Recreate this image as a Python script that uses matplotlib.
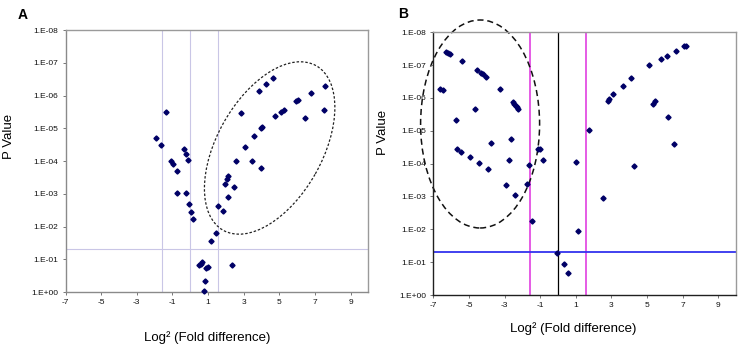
import numpy as np
import matplotlib
matplotlib.use("Agg")
import matplotlib.pyplot as plt
from matplotlib.patches import Ellipse
from matplotlib.transforms import ScaledTranslation
from matplotlib.ticker import FixedLocator, FuncFormatter

plt.rcParams['font.family'] = ['Liberation Sans', 'DejaVu Sans']
plt.rcParams['axes.unicode_minus'] = False

# ---------------- Data: panel A ----------------
a_fold = [-1.93, -1.65, -1.37, -1.07, -0.96, -0.75, -0.75, -0.36, -0.24, -0.13,
          -0.24, -0.08, 0.02, 0.15, 1.16, 1.46, 1.58, 1.84, 1.95, 2.06,
          2.14, 2.14, 2.44, 2.55, 2.85, 3.08, 3.47, 3.57, 3.85, 3.96,
          4.05, 3.96, 4.26, 4.65, 4.78, 5.07, 5.27, 5.93, 6.06, 6.45,
          6.77, 7.49, 7.54, 0.47, 0.58, 0.68, 0.86, 0.98, 0.84, 0.75, 2.36]
a_pval = [2.0e-5, 3.2e-5, 3.3e-6, 9.8e-5, 1.2e-4, 2.0e-4, 9.3e-4, 4.3e-5, 6.3e-5, 9.5e-5,
          9.3e-4, 2.1e-3, 3.5e-3, 5.9e-3, 2.7e-2, 1.6e-2, 2.3e-3, 3.3e-3, 4.9e-4, 3.6e-4,
          2.8e-4, 1.3e-3, 6.3e-4, 1.0e-4, 3.5e-6, 3.7e-5, 1.0e-4, 1.7e-5, 7.2e-7, 9.8e-6,
          9.1e-6, 1.6e-4, 4.6e-7, 3.0e-7, 4.3e-6, 3.2e-6, 2.7e-6, 1.5e-6, 1.4e-6, 5.0e-6,
          8.5e-7, 2.7e-6, 5.1e-7, 0.145, 0.135, 0.123, 0.19, 0.174, 0.457, 0.91, 0.148]

# ---------------- Data: panel B ----------------
b_fold = [-6.65, -6.47, -6.32, -6.18, -6.05, -5.73, -5.66, -5.43, -5.38, -4.96,
          -4.64, -4.53, -4.44, -4.32, -4.21, -4.04, -3.93, -3.76, -3.25, -2.93,
          -2.74, -2.65, -2.54, -2.46, -2.39, -2.33, -2.26, -2.42, -1.77, -1.65,
          -1.47, -1.11, -1.02, -0.85,
          -0.08, 0.34, 0.55, 1.02, 1.11, 1.73, 2.52, 2.80, 2.89, 3.10,
          3.63, 4.10, 4.27, 5.11, 5.32, 5.47, 5.79, 6.11, 6.20, 6.62,
          6.50, 7.09, 7.20]
b_pval = [5.2e-7, 5.7e-7, 4.0e-8, 4.3e-8, 4.6e-8, 4.8e-6, 3.5e-5, 4.4e-5, 7.4e-8, 6.2e-5,
          2.1e-6, 1.4e-7, 9.5e-5, 1.7e-7, 1.9e-7, 2.3e-7, 1.5e-4, 2.4e-5, 5.4e-7, 4.6e-4,
          7.9e-5, 1.8e-5, 1.3e-6, 1.5e-6, 1.7e-6, 1.9e-6, 2.2e-6, 8.9e-4, 4.3e-4, 1.1e-4,
          5.6e-3, 3.6e-5, 3.6e-5, 7.8e-5,
          0.051, 0.11, 0.21, 8.7e-5, 1.1e-2, 9.4e-6, 1.1e-3, 1.2e-6, 1.1e-6, 7.7e-7,
          4.2e-7, 2.5e-7, 1.2e-4, 1.0e-7, 1.5e-6, 1.2e-6, 6.5e-8, 5.2e-8, 3.9e-6, 3.8e-8,
          2.5e-5, 2.7e-8, 2.6e-8]

x_ticks = [-7, -5, -3, -1, 1, 3, 5, 7, 9]
y_ticks = [1e0, 1e-1, 1e-2, 1e-3, 1e-4, 1e-5, 1e-6, 1e-7, 1e-8]
fold_cut = np.log2(3)
p_cut = 0.05

marker_color = '#000066'

fig = plt.figure(figsize=(7.42, 3.45), dpi=100)
axA = fig.add_axes([0.0883, 0.1536, 0.4081, 0.7594])
axB = fig.add_axes([0.5842, 0.1449, 0.4077, 0.7615])


def fmt_y(v, pos):
    e = int(round(np.log10(v)))
    return "1.E%+03d" % e


def style_axes(ax, spine_lb, spine_tr):
    ax.set_yscale('log')
    ax.set_xlim(-7, 10)
    ax.set_ylim(1e0, 1e-8)
    ax.xaxis.set_major_locator(FixedLocator(x_ticks))
    ax.set_xticklabels([str(t) for t in x_ticks])
    ax.yaxis.set_major_locator(FixedLocator(y_ticks))
    ax.yaxis.set_major_formatter(FuncFormatter(fmt_y))
    ax.yaxis.set_minor_locator(FixedLocator([]))
    ax.tick_params(axis='both', labelsize=6.0, length=2.5, width=0.6,
                   color='#606060', pad=2.5, labelcolor='#111111')
    for s in ['left', 'bottom']:
        ax.spines[s].set_color(spine_lb)
        ax.spines[s].set_linewidth(1.0)
    for s in ['top', 'right']:
        ax.spines[s].set_color(spine_tr)
        ax.spines[s].set_linewidth(1.0)
    ax.set_ylabel('P Value', fontsize=9.5)
    ax.set_xlabel('Log² (Fold difference)', fontsize=9.5)


# ---------------- Panel A ----------------
style_axes(axA, '#8a8a8a', '#9a9a9a')
for xv in (-fold_cut, 0, fold_cut):
    axA.axvline(xv, color='#c9c6e6', lw=0.8, zorder=1)
axA.axhline(p_cut, color='#c9c6e6', lw=0.8, zorder=1)
axA.plot(a_fold, a_pval, linestyle='none', marker='D', markersize=2.6,
         color=marker_color, zorder=3, clip_on=False)
ellA = Ellipse((0, 0), 1.89, 1.05, angle=60.5, fill=False, edgecolor='#222222',
               lw=0.9, linestyle=(0, (2.0, 1.5)),
               transform=fig.dpi_scale_trans + ScaledTranslation(4.46, 4.0e-5, axA.transData))
axA.add_patch(ellA)
axA.xaxis.set_label_coords(0.467, -0.149)
axA.yaxis.set_label_coords(-0.167, 0.592)

# ---------------- Panel B ----------------
style_axes(axB, '#202020', '#9a9a9a')
for xv in (-fold_cut, fold_cut):
    axB.axvline(xv, color='#e040e0', lw=1.2, zorder=1)
axB.axvline(0, color='#000000', lw=0.9, zorder=1)
axB.axhline(p_cut, color='#3333ee', lw=1.3, zorder=1)
axB.plot(b_fold, b_pval, linestyle='none', marker='D', markersize=2.6,
         color=marker_color, zorder=3, clip_on=False)
ellB = Ellipse((0, 0), 1.19, 2.08, angle=0, fill=False, edgecolor='#111111',
               lw=1.1, linestyle=(0, (4.0, 2.5)), clip_on=False,
               transform=fig.dpi_scale_trans + ScaledTranslation(-4.38, 6.2e-6, axB.transData))
axB.add_patch(ellB)
axB.xaxis.set_label_coords(0.461, -0.103)
axB.yaxis.set_label_coords(-0.147, 0.617)

fig.text(23 / 742, 1 - 15 / 345, 'A', fontsize=10, fontweight='bold', ha='center', va='center')
fig.text(403 / 742, 1 - 14 / 345, 'B', fontsize=10, fontweight='bold', ha='center', va='center')

fig.savefig('out.png', dpi=100)
